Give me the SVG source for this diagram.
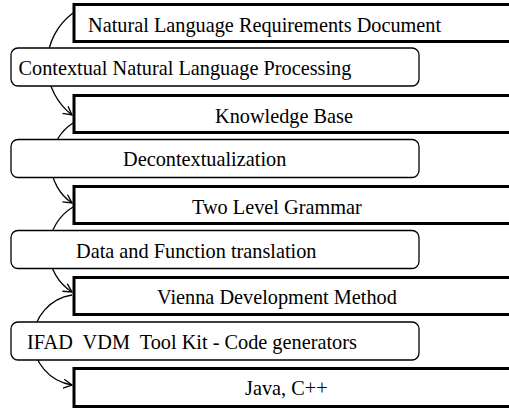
<svg xmlns="http://www.w3.org/2000/svg" width="509" height="408" viewBox="0 0 509 408">
  <defs>
    <style>
      .step { fill: #ffffff; stroke: #000000; stroke-width: 3; }
      .tool { fill: #ffffff; stroke: #000000; stroke-width: 1.3; }
      .flow { fill: none; stroke: #000000; stroke-width: 1.3; }
      .label { font-family: "Liberation Serif", "Times New Roman", serif; font-size: 20.3px; fill: #000000; white-space: pre; }
    </style>
    <marker id="arrow" markerUnits="userSpaceOnUse" markerWidth="12" markerHeight="12" refX="9" refY="5" orient="auto">
      <path d="M0.5,0.5 L9,5 L0.5,9.5" fill="none" stroke="#000000" stroke-width="1.3"/>
    </marker>
  </defs>

  <rect width="509" height="408" fill="#ffffff"/>

  <!-- curved flow arrows, drawn beneath the boxes -->
  <g id="connectors">
    <path class="flow" d="M73,13 A64,64 0 0 0 72,115" marker-end="url(#arrow)"/>
    <path class="flow" d="M73,123 A48,48 0 0 0 72,203" marker-end="url(#arrow)"/>
    <path class="flow" d="M73,207 A50,50 0 0 0 72,292" marker-end="url(#arrow)"/>
    <path class="flow" d="M72,295 A45.5,45.5 0 0 0 72,385" marker-end="url(#arrow)"/>
  </g>

  <!-- artefacts (square boxes running off the right edge) -->
  <g id="nl-requirements">
    <rect class="step" x="74" y="4.5" width="445" height="37"/>
    <text class="label" x="88" y="31.5">Natural Language Requirements Document</text>
  </g>
  <g id="knowledge-base">
    <rect class="step" x="74" y="95.5" width="445" height="37"/>
    <text class="label" x="215" y="122.5">Knowledge Base</text>
  </g>
  <g id="two-level-grammar">
    <rect class="step" x="74" y="186.5" width="445" height="37"/>
    <text class="label" x="192" y="213.5">Two Level Grammar</text>
  </g>
  <g id="vdm">
    <rect class="step" x="74" y="277.5" width="445" height="37"/>
    <text class="label" x="157" y="304">Vienna Development Method</text>
  </g>
  <g id="target-languages">
    <rect class="step" x="74" y="368.5" width="445" height="38"/>
    <text class="label" x="245" y="394.5">Java, C++</text>
  </g>

  <!-- processing stages (rounded boxes) -->
  <g id="contextual-nlp">
    <rect class="tool" x="11" y="48" width="408" height="38" rx="7"/>
    <text class="label" x="18.5" y="75">Contextual Natural Language Processing</text>
  </g>
  <g id="decontextualization">
    <rect class="tool" x="11" y="139.5" width="408" height="38" rx="7"/>
    <text class="label" x="123" y="166">Decontextualization</text>
  </g>
  <g id="data-function-translation">
    <rect class="tool" x="11" y="230.5" width="408" height="38" rx="7"/>
    <text class="label" x="76" y="258">Data and Function translation</text>
  </g>
  <g id="ifad-toolkit">
    <rect class="tool" x="11" y="322" width="408" height="38" rx="7"/>
    <text class="label" x="27" y="349">IFAD  VDM  Tool Kit - Code generators</text>
  </g>
</svg>
